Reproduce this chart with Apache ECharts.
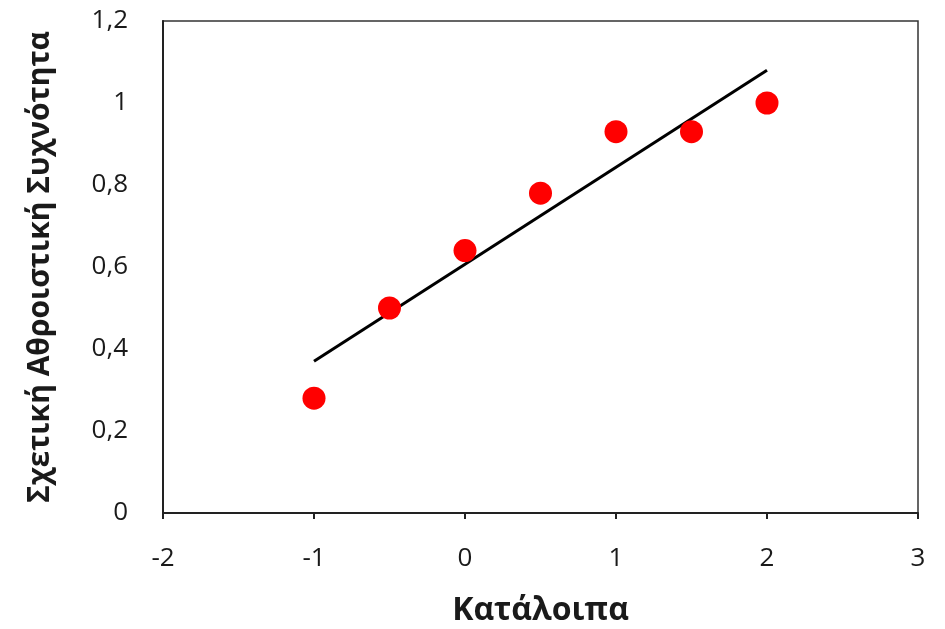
<!DOCTYPE html>
<html>
<head>
<meta charset="utf-8">
<script src="https://cdn.jsdelivr.net/npm/echarts@6/dist/echarts.min.js"></script>
<style>
  html, body { margin: 0; padding: 0; background: #fff; }
  #chart { width: 945px; height: 629px; }
</style>
</head>
<body>
<div id="chart"></div>
<script>
// Residuals and their relative cumulative frequencies
const residuals = [-1, -0.5, 0, 0.5, 1, 1.5, 2];
const cumFreq = [0.28, 0.5, 0.64, 0.78, 0.93, 0.93, 1.0];

// Fitted trend line end points
const trendX = [-1, 2];
const trendY = [0.37, 1.08];

const xTitle = 'Κατάλοιπα';
const yTitle = 'Σχετική Αθροιστική Συχνότητα';

const fontFamily = '"Open Sans", "DejaVu Sans", sans-serif';
const comma = v => String(Math.round(v * 10) / 10).replace('.', ',');

const chart = echarts.init(document.getElementById('chart'), null, { renderer: 'canvas' });
chart.setOption({
  animation: false,
  backgroundColor: '#fff',
  grid: {
    left: 163, right: 27, top: 21, bottom: 116,
    containLabel: false,
    outerBoundsMode: 'none',
    show: true, borderColor: '#333', borderWidth: 1.5
  },
  xAxis: {
    type: 'value',
    min: -2, max: 3, interval: 1,
    name: xTitle,
    nameLocation: 'middle',
    nameGap: 82,
    nameTextStyle: { fontFamily, fontSize: 32, fontWeight: 'bold', color: '#1a1a1a' },
    axisLine: { show: true, onZero: false, lineStyle: { color: '#222', width: 2 } },
    axisTick: { show: true, length: 6, lineStyle: { color: '#222', width: 2 } },
    axisLabel: { fontFamily, fontSize: 26, color: '#1a1a1a', margin: 33, formatter: comma },
    splitLine: { show: false }
  },
  yAxis: {
    type: 'value',
    min: 0, max: 1.2, interval: 0.2,
    name: yTitle,
    nameLocation: 'middle',
    nameGap: 108,
    nameTextStyle: { fontFamily, fontSize: 30, fontWeight: 'bold', color: '#1a1a1a' },
    axisLine: { show: true, onZero: false, lineStyle: { color: '#222', width: 2 } },
    axisTick: { show: false },
    axisLabel: { fontFamily, fontSize: 26, color: '#1a1a1a', margin: 35, formatter: comma },
    splitLine: { show: false }
  },
  series: [
    {
      type: 'line',
      data: trendX.map((x, i) => [x, trendY[i]]),
      showSymbol: false,
      symbol: 'none',
      lineStyle: { color: '#000', width: 3 },
      z: 2
    },
    {
      type: 'scatter',
      data: residuals.map((x, i) => [x, cumFreq[i]]),
      symbol: 'circle',
      symbolSize: 23,
      itemStyle: { color: '#ff0000', opacity: 1 },
      z: 3
    }
  ]
});
</script>
</body>
</html>
